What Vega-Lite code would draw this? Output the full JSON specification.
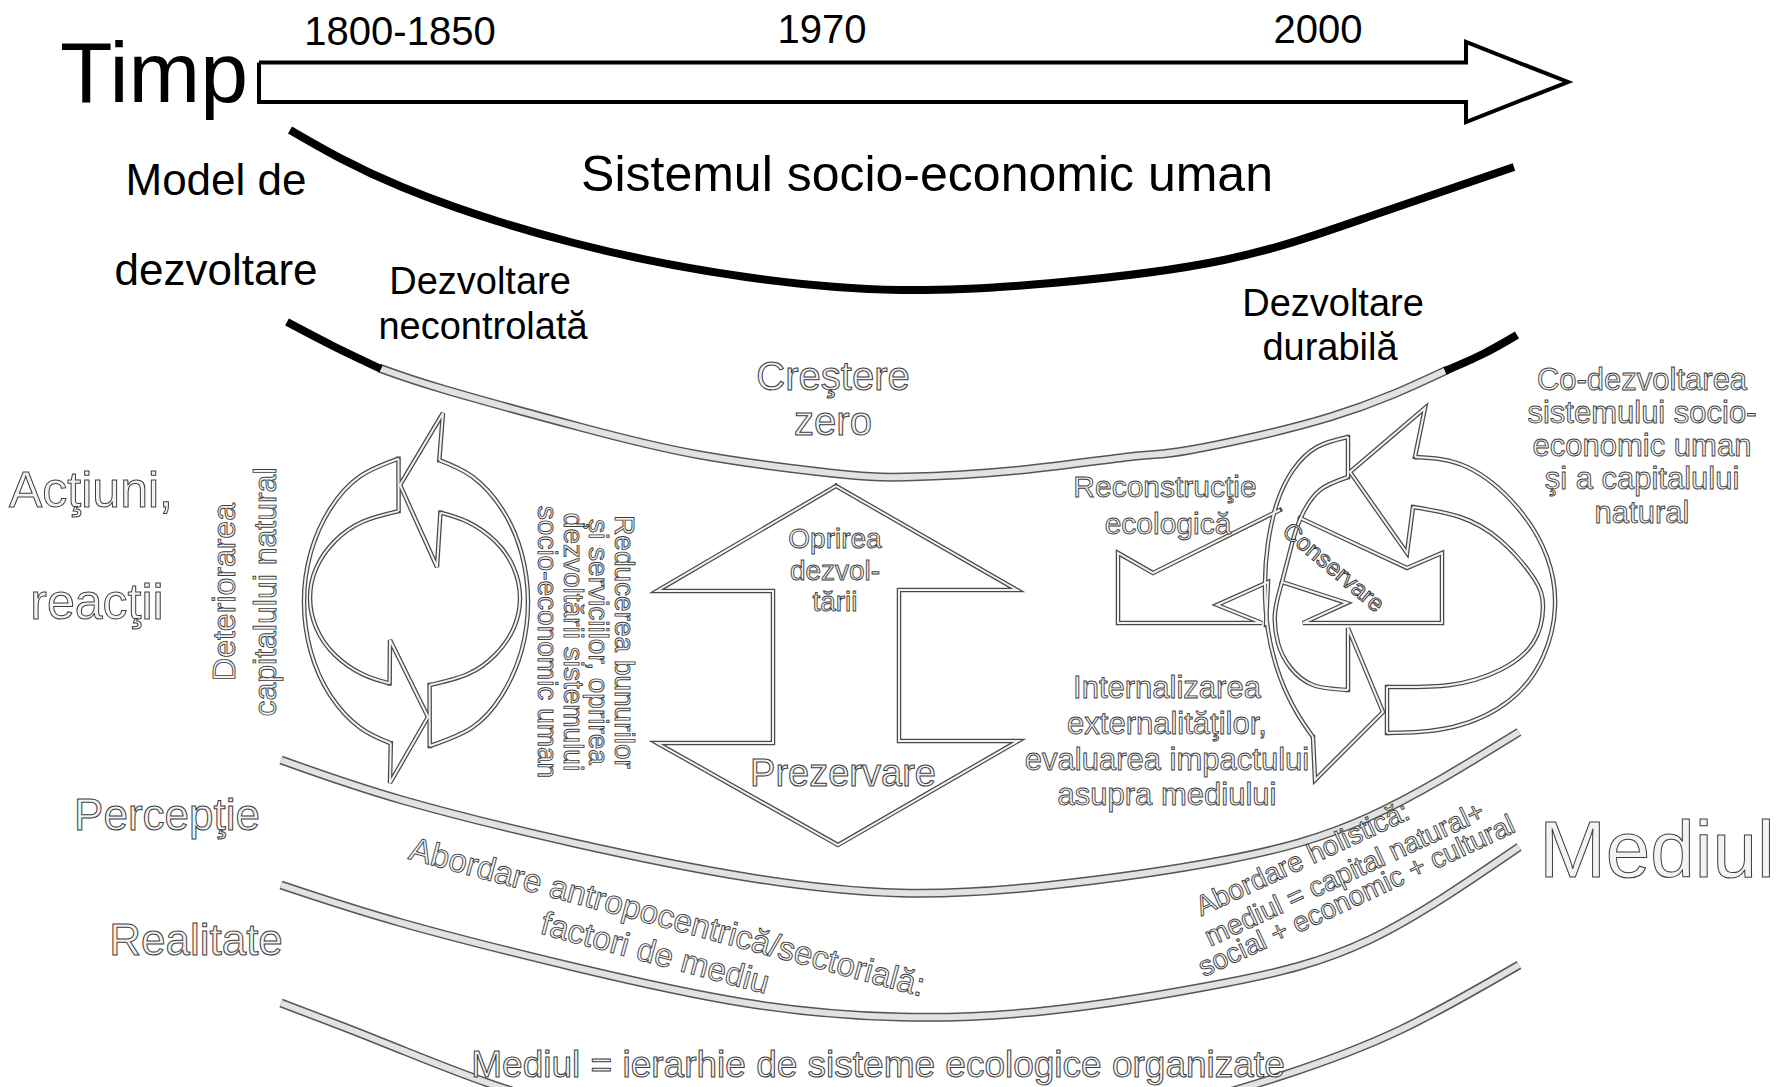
{
  "$schema": "https://vega.github.io/schema/vega-lite/v6.json",
  "width": 1782,
  "height": 1087,
  "autosize": {"type": "fit", "contains": "padding"},
  "padding": 0,
  "background": "white",
  "config": {"view": {"stroke": null}},
  "datasets": {
    "timeArrow": [
      {"g": "t", "x": 259, "y": 62.5}, {"g": "t", "x": 1466, "y": 62.5}, {"g": "t", "x": 1466, "y": 42},
      {"g": "t", "x": 1568, "y": 82}, {"g": "t", "x": 1466, "y": 122}, {"g": "t", "x": 1466, "y": 102},
      {"g": "t", "x": 259, "y": 102}, {"g": "t", "x": 259, "y": 62.5}
    ],
    "blackArcs": [
      {"g": "u", "x": 290, "y": 130}, {"g": "u", "x": 402, "y": 187}, {"g": "u", "x": 574, "y": 243},
      {"g": "u", "x": 746, "y": 277}, {"g": "u", "x": 900, "y": 290}, {"g": "u", "x": 1052, "y": 283},
      {"g": "u", "x": 1224, "y": 260}, {"g": "u", "x": 1368, "y": 217}, {"g": "u", "x": 1514, "y": 167},
      {"g": "l1", "x": 287, "y": 322}, {"g": "l1", "x": 333, "y": 346}, {"g": "l1", "x": 381, "y": 369},
      {"g": "l2", "x": 1445, "y": 371}, {"g": "l2", "x": 1483, "y": 354}, {"g": "l2", "x": 1517, "y": 335}
    ],
    "greyArcs": [
      {"g": "a1", "x": 379, "y": 368}, {"g": "a1", "x": 446, "y": 390}, {"g": "a1", "x": 580, "y": 427},
      {"g": "a1", "x": 700, "y": 455}, {"g": "a1", "x": 830, "y": 473}, {"g": "a1", "x": 906, "y": 477},
      {"g": "a1", "x": 1021, "y": 470}, {"g": "a1", "x": 1136, "y": 456}, {"g": "a1", "x": 1190, "y": 450},
      {"g": "a1", "x": 1330, "y": 417}, {"g": "a1", "x": 1447, "y": 370},
      {"g": "a2", "x": 281, "y": 760}, {"g": "a2", "x": 402, "y": 800}, {"g": "a2", "x": 574, "y": 843},
      {"g": "a2", "x": 746, "y": 877}, {"g": "a2", "x": 900, "y": 893}, {"g": "a2", "x": 1053, "y": 885},
      {"g": "a2", "x": 1225, "y": 860}, {"g": "a2", "x": 1369, "y": 817}, {"g": "a2", "x": 1519, "y": 732},
      {"g": "a3", "x": 281, "y": 885}, {"g": "a3", "x": 402, "y": 923}, {"g": "a3", "x": 574, "y": 967},
      {"g": "a3", "x": 746, "y": 1003}, {"g": "a3", "x": 900, "y": 1017}, {"g": "a3", "x": 1053, "y": 1010},
      {"g": "a3", "x": 1225, "y": 983}, {"g": "a3", "x": 1369, "y": 940}, {"g": "a3", "x": 1519, "y": 847},
      {"g": "a4", "x": 281, "y": 1003}, {"g": "a4", "x": 344, "y": 1027}, {"g": "a4", "x": 402, "y": 1050},
      {"g": "a4", "x": 488, "y": 1083}, {"g": "a4", "x": 600, "y": 1115}, {"g": "a4", "x": 750, "y": 1140},
      {"g": "a4", "x": 900, "y": 1150}, {"g": "a4", "x": 1050, "y": 1138}, {"g": "a4", "x": 1168, "y": 1110},
      {"g": "a4", "x": 1284, "y": 1075}, {"g": "a4", "x": 1400, "y": 1030}, {"g": "a4", "x": 1519, "y": 965}
    ],
    "smooth": [
      {"g": "A1", "x": 398.5, "y": 458.7}, {"g": "A1", "x": 360, "y": 476.4}, {"g": "A1", "x": 330.2, "y": 508.8},
      {"g": "A1", "x": 310.8, "y": 552.4}, {"g": "A1", "x": 304, "y": 602}, {"g": "A1", "x": 310.8, "y": 651.6},
      {"g": "A1", "x": 330.2, "y": 695.2}, {"g": "A1", "x": 360, "y": 727.6}, {"g": "A1", "x": 390.8, "y": 743.3},
      {"g": "A3", "x": 389.6, "y": 683.4}, {"g": "A3", "x": 362.5, "y": 674.2}, {"g": "A3", "x": 334.6, "y": 654.6},
      {"g": "A3", "x": 316.3, "y": 628.1}, {"g": "A3", "x": 310, "y": 598}, {"g": "A3", "x": 316.3, "y": 567.9},
      {"g": "A3", "x": 334.6, "y": 541.4}, {"g": "A3", "x": 362.5, "y": 521.8}, {"g": "A3", "x": 398.6, "y": 511.1},
      {"g": "B1", "x": 429.7, "y": 746}, {"g": "B1", "x": 472, "y": 727.6}, {"g": "B1", "x": 501.8, "y": 695.2},
      {"g": "B1", "x": 521.3, "y": 651.6}, {"g": "B1", "x": 528, "y": 602}, {"g": "B1", "x": 521.3, "y": 552.4},
      {"g": "B1", "x": 501.8, "y": 508.8}, {"g": "B1", "x": 472, "y": 476.4}, {"g": "B1", "x": 439.3, "y": 460.2},
      {"g": "B3", "x": 440.4, "y": 512.6}, {"g": "B3", "x": 467.5, "y": 521.8}, {"g": "B3", "x": 495.4, "y": 541.4},
      {"g": "B3", "x": 513.7, "y": 567.9}, {"g": "B3", "x": 520, "y": 598}, {"g": "B3", "x": 513.7, "y": 628.1},
      {"g": "B3", "x": 495.4, "y": 654.6}, {"g": "B3", "x": 467.5, "y": 674.2}, {"g": "B3", "x": 429.6, "y": 685.1},
      {"g": "C1", "x": 1415, "y": 457}, {"g": "C1", "x": 1467, "y": 467}, {"g": "C1", "x": 1517, "y": 507},
      {"g": "C1", "x": 1547, "y": 557}, {"g": "C1", "x": 1555, "y": 607}, {"g": "C1", "x": 1543, "y": 657},
      {"g": "C1", "x": 1510, "y": 700}, {"g": "C1", "x": 1453, "y": 727}, {"g": "C1", "x": 1387, "y": 733},
      {"g": "C3", "x": 1387, "y": 687}, {"g": "C3", "x": 1450, "y": 685}, {"g": "C3", "x": 1500, "y": 670},
      {"g": "C3", "x": 1533, "y": 643}, {"g": "C3", "x": 1543, "y": 607}, {"g": "C3", "x": 1533, "y": 577},
      {"g": "C3", "x": 1500, "y": 540}, {"g": "C3", "x": 1460, "y": 517}, {"g": "C3", "x": 1413, "y": 507},
      {"g": "D1", "x": 1348, "y": 437}, {"g": "D1", "x": 1317, "y": 447}, {"g": "D1", "x": 1293, "y": 470},
      {"g": "D1", "x": 1277, "y": 503}, {"g": "D1", "x": 1268, "y": 543}, {"g": "D1", "x": 1265, "y": 583},
      {"g": "D1", "x": 1268, "y": 630}, {"g": "D1", "x": 1280, "y": 677}, {"g": "D1", "x": 1297, "y": 713},
      {"g": "D1", "x": 1313, "y": 737},
      {"g": "D3", "x": 1348, "y": 690}, {"g": "D3", "x": 1313, "y": 685}, {"g": "D3", "x": 1290, "y": 667},
      {"g": "D3", "x": 1278, "y": 643}, {"g": "D3", "x": 1275, "y": 613}, {"g": "D3", "x": 1282, "y": 582},
      {"g": "D3", "x": 1293, "y": 540}, {"g": "D3", "x": 1303, "y": 513}, {"g": "D3", "x": 1320, "y": 490},
      {"g": "D3", "x": 1348, "y": 477}
    ],
    "straight": [
      {"g": "A2", "x": 390.8, "y": 743.3}, {"g": "A2", "x": 390, "y": 783}, {"g": "A2", "x": 428, "y": 717},
      {"g": "A2", "x": 390, "y": 640}, {"g": "A2", "x": 389.6, "y": 683.4},
      {"g": "A4", "x": 398.6, "y": 511.1}, {"g": "A4", "x": 398.5, "y": 458.7},
      {"g": "B2", "x": 439.3, "y": 460.2}, {"g": "B2", "x": 443, "y": 413}, {"g": "B2", "x": 400, "y": 485},
      {"g": "B2", "x": 437, "y": 567}, {"g": "B2", "x": 440.4, "y": 512.6},
      {"g": "B4", "x": 429.6, "y": 685.1}, {"g": "B4", "x": 429.7, "y": 746},
      {"g": "C2", "x": 1387, "y": 733}, {"g": "C2", "x": 1387, "y": 687},
      {"g": "C4", "x": 1413, "y": 507}, {"g": "C4", "x": 1407, "y": 553}, {"g": "C4", "x": 1350, "y": 472},
      {"g": "C4", "x": 1425, "y": 408}, {"g": "C4", "x": 1415, "y": 457},
      {"g": "D2", "x": 1313, "y": 737}, {"g": "D2", "x": 1315, "y": 780}, {"g": "D2", "x": 1383, "y": 712},
      {"g": "D2", "x": 1348, "y": 628}, {"g": "D2", "x": 1348, "y": 690},
      {"g": "D4", "x": 1348, "y": 477}, {"g": "D4", "x": 1348, "y": 437},
      {"g": "L1", "x": 1280, "y": 510}, {"g": "L1", "x": 1153, "y": 573}, {"g": "L1", "x": 1118, "y": 553},
      {"g": "L1", "x": 1118, "y": 623}, {"g": "L1", "x": 1262, "y": 623}, {"g": "L1", "x": 1217, "y": 605},
      {"g": "L1", "x": 1268, "y": 582}, {"g": "L1", "x": 1266, "y": 625},
      {"g": "L2", "x": 1300, "y": 518}, {"g": "L2", "x": 1407, "y": 568}, {"g": "L2", "x": 1442, "y": 553},
      {"g": "L2", "x": 1442, "y": 623}, {"g": "L2", "x": 1303, "y": 623}, {"g": "L2", "x": 1347, "y": 603},
      {"g": "L2", "x": 1282, "y": 582},
      {"g": "M", "x": 836, "y": 486}, {"g": "M", "x": 1017, "y": 590}, {"g": "M", "x": 899, "y": 590},
      {"g": "M", "x": 899, "y": 741}, {"g": "M", "x": 1018, "y": 741}, {"g": "M", "x": 838, "y": 845},
      {"g": "M", "x": 657, "y": 743}, {"g": "M", "x": 773, "y": 743}, {"g": "M", "x": 773, "y": 591},
      {"g": "M", "x": 657, "y": 591}, {"g": "M", "x": 836, "y": 486}
    ],
    "txtTimp": [{"t": "Timp", "x": 154, "y": 102}],
    "txtYears": [
      {"t": "1800-1850", "x": 400, "y": 45},
      {"t": "1970", "x": 822, "y": 43},
      {"t": "2000", "x": 1318, "y": 43}
    ],
    "txtSistemul": [{"t": "Sistemul socio-economic uman", "x": 927, "y": 191}],
    "txtModel": [
      {"t": "Model de", "x": 216, "y": 195},
      {"t": "dezvoltare", "x": 216, "y": 285}
    ],
    "txtDezv": [
      {"t": "Dezvoltare", "x": 480, "y": 294},
      {"t": "necontrolată", "x": 483, "y": 339},
      {"t": "Dezvoltare", "x": 1333, "y": 316},
      {"t": "durabilă", "x": 1330, "y": 360}
    ],
    "hActiuni": [
      {"t": "Acţiuni,", "x": 91, "y": 507},
      {"t": "reacţii", "x": 97, "y": 619}
    ],
    "hPerc": [
      {"t": "Percepţie", "x": 167, "y": 830},
      {"t": "Realitate", "x": 196, "y": 955}
    ],
    "hMediul": [{"t": "Mediul", "x": 1657, "y": 877}],
    "hCrestere": [
      {"t": "Creştere", "x": 833, "y": 390},
      {"t": "zero", "x": 833, "y": 435}
    ],
    "hOprirea": [
      {"t": "Oprirea", "x": 835, "y": 548},
      {"t": "dezvol-", "x": 835, "y": 580},
      {"t": "tării", "x": 835, "y": 611}
    ],
    "hPrez": [{"t": "Prezervare", "x": 843, "y": 786}],
    "hRecon": [
      {"t": "Reconstrucţie", "x": 1165, "y": 497},
      {"t": "ecologică", "x": 1168, "y": 534}
    ],
    "hBlocks": [
      {"t": "Co-dezvoltarea", "x": 1642, "y": 390},
      {"t": "sistemului socio-", "x": 1642, "y": 423},
      {"t": "economic uman", "x": 1642, "y": 456},
      {"t": "şi a capitalului", "x": 1642, "y": 489},
      {"t": "natural", "x": 1642, "y": 523},
      {"t": "Internalizarea", "x": 1167, "y": 698},
      {"t": "externalităţilor,", "x": 1167, "y": 734},
      {"t": "evaluarea impactului", "x": 1167, "y": 770},
      {"t": "asupra mediului", "x": 1167, "y": 805}
    ],
    "hMediulEq": [{"t": "Mediul = ierarhie de sisteme ecologice organizate", "x": 878, "y": 1077}],
    "hDeterior": [
      {"t": "Deteriorarea", "x": 225, "y": 592},
      {"t": "capitalului natural", "x": 266, "y": 592}
    ],
    "hReducerea": [
      {"t": "Reducerea bunurilor", "x": 623, "y": 642},
      {"t": "şi serviciilor, oprirea", "x": 597, "y": 642},
      {"t": "dezvoltării sistemului", "x": 572, "y": 642},
      {"t": "socio-economic uman", "x": 546, "y": 642}
    ],
    "hAntropo": [
      {"t": "Abordare antropocentrică/sectorială:", "x": 667, "y": 918},
      {"t": "factori de mediu", "x": 655, "y": 954}
    ],
    "hHolistic": [
      {"t": "Abordare holistică:", "x": 1303, "y": 860},
      {"t": "mediul = capital natural+", "x": 1345, "y": 875},
      {"t": "social + economic + cultural", "x": 1357, "y": 897}
    ],
    "hConserv": [{"t": "Conservare", "x": 1333, "y": 568}]
  },
  "encoding": {
    "x": {"field": "x", "type": "quantitative", "scale": {"domain": [0, 1782], "nice": false, "zero": false}, "axis": null},
    "y": {"field": "y", "type": "quantitative", "scale": {"domain": [0, 1087], "nice": false, "zero": false, "reverse": true}, "axis": null}
  },
  "layer": [
    {"data": {"name": "greyArcs"}, "mark": {"type": "line", "interpolate": "natural", "stroke": "#555555", "strokeWidth": 9, "strokeCap": "butt", "clip": true},
     "encoding": {"detail": {"field": "g"}, "order": {"value": null}}},
    {"data": {"name": "greyArcs"}, "mark": {"type": "line", "interpolate": "natural", "stroke": "#e2e2e2", "strokeWidth": 6, "strokeCap": "butt", "clip": true},
     "encoding": {"detail": {"field": "g"}, "order": {"value": null}}},
    {"data": {"name": "blackArcs"}, "mark": {"type": "line", "interpolate": "natural", "stroke": "#000000", "strokeWidth": 8, "strokeCap": "butt"},
     "encoding": {"detail": {"field": "g"}, "order": {"value": null}}},
    {"data": {"name": "smooth"}, "mark": {"type": "line", "interpolate": "natural", "stroke": "#4a4a4a", "strokeWidth": 4.5, "strokeCap": "butt"},
     "encoding": {"detail": {"field": "g"}, "order": {"value": null}}},
    {"data": {"name": "straight"}, "mark": {"type": "line", "interpolate": "linear", "stroke": "#4a4a4a", "strokeWidth": 4.5, "strokeJoin": "miter", "strokeCap": "square"},
     "encoding": {"detail": {"field": "g"}, "order": {"value": null}}},
    {"data": {"name": "smooth"}, "mark": {"type": "line", "interpolate": "natural", "stroke": "#f2f2f2", "strokeWidth": 2, "strokeCap": "butt"},
     "encoding": {"detail": {"field": "g"}, "order": {"value": null}}},
    {"data": {"name": "straight"}, "mark": {"type": "line", "interpolate": "linear", "stroke": "#f2f2f2", "strokeWidth": 2, "strokeJoin": "miter", "strokeCap": "butt"},
     "encoding": {"detail": {"field": "g"}, "order": {"value": null}}},
    {"data": {"name": "timeArrow"}, "mark": {"type": "line", "interpolate": "linear", "stroke": "#000000", "strokeWidth": 4, "strokeJoin": "miter"},
     "encoding": {"detail": {"field": "g"}, "order": {"value": null}}},

    {"data": {"name": "txtTimp"}, "mark": {"type": "text", "font": "Liberation Sans", "fontSize": 86, "align": "center", "baseline": "alphabetic", "fill": "#000000"},
     "encoding": {"text": {"field": "t"}}},
    {"data": {"name": "txtYears"}, "mark": {"type": "text", "font": "Liberation Sans", "fontSize": 40, "align": "center", "baseline": "alphabetic", "fill": "#000000"},
     "encoding": {"text": {"field": "t"}}},
    {"data": {"name": "txtSistemul"}, "mark": {"type": "text", "font": "Liberation Sans", "fontSize": 50, "align": "center", "baseline": "alphabetic", "fill": "#000000"},
     "encoding": {"text": {"field": "t"}}},
    {"data": {"name": "txtModel"}, "mark": {"type": "text", "font": "Liberation Sans", "fontSize": 44, "align": "center", "baseline": "alphabetic", "fill": "#000000"},
     "encoding": {"text": {"field": "t"}}},
    {"data": {"name": "txtDezv"}, "mark": {"type": "text", "font": "Liberation Sans", "fontSize": 38, "align": "center", "baseline": "alphabetic", "fill": "#000000"},
     "encoding": {"text": {"field": "t"}}},

    {"data": {"name": "hActiuni"}, "mark": {"type": "text", "font": "Liberation Sans", "fontSize": 50, "align": "center", "baseline": "alphabetic", "fill": "#f3f3f3", "stroke": "#3c3c3c", "strokeWidth": 1},
     "encoding": {"text": {"field": "t"}}},
    {"data": {"name": "hPerc"}, "mark": {"type": "text", "font": "Liberation Sans", "fontSize": 44, "align": "center", "baseline": "alphabetic", "fill": "#f3f3f3", "stroke": "#3c3c3c", "strokeWidth": 1},
     "encoding": {"text": {"field": "t"}}},
    {"data": {"name": "hMediul"}, "mark": {"type": "text", "font": "Liberation Sans", "fontSize": 80, "align": "center", "baseline": "alphabetic", "fill": "#f3f3f3", "stroke": "#3c3c3c", "strokeWidth": 1},
     "encoding": {"text": {"field": "t"}}},
    {"data": {"name": "hCrestere"}, "mark": {"type": "text", "font": "Liberation Sans", "fontSize": 40, "align": "center", "baseline": "alphabetic", "fill": "#f3f3f3", "stroke": "#3c3c3c", "strokeWidth": 1},
     "encoding": {"text": {"field": "t"}}},
    {"data": {"name": "hOprirea"}, "mark": {"type": "text", "font": "Liberation Sans", "fontSize": 28, "align": "center", "baseline": "alphabetic", "fill": "#f3f3f3", "stroke": "#3c3c3c", "strokeWidth": 0.9},
     "encoding": {"text": {"field": "t"}}},
    {"data": {"name": "hPrez"}, "mark": {"type": "text", "font": "Liberation Sans", "fontSize": 38, "align": "center", "baseline": "alphabetic", "fill": "#f3f3f3", "stroke": "#3c3c3c", "strokeWidth": 1},
     "encoding": {"text": {"field": "t"}}},
    {"data": {"name": "hRecon"}, "mark": {"type": "text", "font": "Liberation Sans", "fontSize": 30, "align": "center", "baseline": "alphabetic", "fill": "#f3f3f3", "stroke": "#3c3c3c", "strokeWidth": 0.9},
     "encoding": {"text": {"field": "t"}}},
    {"data": {"name": "hBlocks"}, "mark": {"type": "text", "font": "Liberation Sans", "fontSize": 31, "align": "center", "baseline": "alphabetic", "fill": "#f3f3f3", "stroke": "#3c3c3c", "strokeWidth": 0.9},
     "encoding": {"text": {"field": "t"}}},
    {"data": {"name": "hMediulEq"}, "mark": {"type": "text", "font": "Liberation Sans", "fontSize": 37, "align": "center", "baseline": "alphabetic", "fill": "#f3f3f3", "stroke": "#3c3c3c", "strokeWidth": 1},
     "encoding": {"text": {"field": "t"}}},
    {"data": {"name": "hDeterior"}, "mark": {"type": "text", "font": "Liberation Sans", "fontSize": 32, "angle": 270, "align": "center", "baseline": "middle", "fill": "#f3f3f3", "stroke": "#3c3c3c", "strokeWidth": 0.9},
     "encoding": {"text": {"field": "t"}}},
    {"data": {"name": "hReducerea"}, "mark": {"type": "text", "font": "Liberation Sans", "fontSize": 28, "angle": 90, "align": "center", "baseline": "middle", "fill": "#f3f3f3", "stroke": "#3c3c3c", "strokeWidth": 0.9},
     "encoding": {"text": {"field": "t"}}},
    {"data": {"name": "hAntropo"}, "mark": {"type": "text", "font": "Liberation Sans", "fontSize": 33, "angle": 15, "align": "center", "baseline": "middle", "fill": "#f3f3f3", "stroke": "#3c3c3c", "strokeWidth": 0.9},
     "encoding": {"text": {"field": "t"}}},
    {"data": {"name": "hHolistic"}, "mark": {"type": "text", "font": "Liberation Sans", "fontSize": 28, "angle": 335, "align": "center", "baseline": "middle", "fill": "#f3f3f3", "stroke": "#3c3c3c", "strokeWidth": 0.9},
     "encoding": {"text": {"field": "t"}}},
    {"data": {"name": "hConserv"}, "mark": {"type": "text", "font": "Liberation Sans", "fontSize": 24, "angle": 40, "align": "center", "baseline": "middle", "fill": "#f3f3f3", "stroke": "#3c3c3c", "strokeWidth": 1},
     "encoding": {"text": {"field": "t"}}}
  ]
}
